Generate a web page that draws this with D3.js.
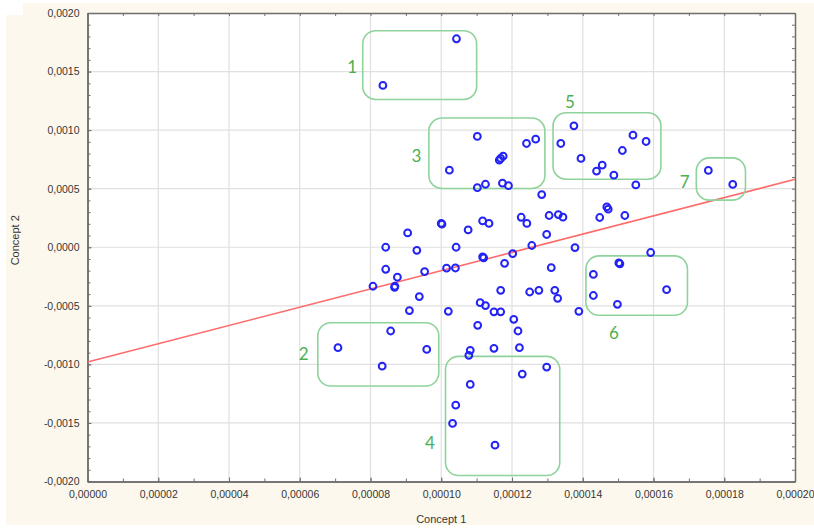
<!DOCTYPE html>
<html>
<head>
<meta charset="utf-8">
<script src="https://cdn.jsdelivr.net/npm/d3@7"></script>
<style>
    html, body { margin: 0; padding: 0; background: #ffffff; }
    svg { display: block; }
</style>
</head>
<body>
<svg id="chart" width="814" height="528"></svg>
<script>
// Concept 1 values (x), in units of 1e-5
const concept1 = [
    10.43, 8.35,
    11.02, 12.41, 12.67, 11.68, 11.75, 11.64, 10.23, 11.02, 11.25, 11.73, 11.90,
    13.75, 13.38, 13.95, 14.55, 14.39, 14.88, 15.12, 15.42, 15.79, 15.50, 12.84,
    17.55, 18.24,
    13.05, 13.31, 13.44, 14.68, 14.72, 14.48, 15.19, 10.00, 10.02, 9.05, 10.76,
    11.17, 11.35, 12.26, 12.42, 12.98, 12.56, 13.78, 8.43, 9.31, 10.42, 11.17,
    11.20, 12.02, 11.79, 13.11, 8.43, 8.76, 9.53, 10.15, 10.40, 8.07, 8.68, 8.69,
    9.38, 9.10, 10.20, 11.10, 11.25, 11.49, 11.68, 11.68, 12.50, 12.76, 13.21,
    13.29, 13.89, 12.05, 11.03, 12.17,
    8.57, 7.08, 9.59, 8.33,
    10.82, 10.78, 11.49, 12.21, 12.29, 12.98, 10.82, 10.41, 10.32, 11.52,
    15.92, 15.02, 15.05, 14.30, 14.30, 14.98, 16.37
];

// Concept 2 values (y), in units of 1e-4
const concept2 = [
    17.80, 13.82,
    9.46, 8.86, 9.23, 7.58, 7.78, 7.44, 6.58, 5.09, 5.38, 5.47, 5.26,
    10.37, 8.86, 7.58, 7.01, 6.50, 6.15, 8.26, 9.57, 9.03, 5.32, 4.50,
    6.56, 5.36,
    2.71, 2.79, 2.57, 3.44, 3.25, 2.54, 2.71, 2.03, 1.97, 1.22, 1.48,
    2.25, 2.03, 2.56, 2.03, 1.09, 0.15, -0.03, 0.00, -0.26, 0.00, -0.83,
    -0.90, -0.54, -1.37, -1.74, -1.88, -2.56, -2.08, -1.79, -1.77, -3.33, -3.42, -3.33,
    -4.21, -5.41, -5.47, -4.73, -4.98, -5.51, -5.51, -3.68, -3.82, -3.68, -3.68,
    -4.36, -5.47, -6.15, -6.67, -7.15,
    -7.15, -8.57, -8.72, -10.15,
    -8.80, -9.23, -8.63, -8.57, -10.83, -10.23, -11.71, -13.48, -15.04, -16.90,
    -0.45, -1.34, -1.41, -2.32, -4.12, -4.87, -3.62
];

const xTicks = [0, 0.00002, 0.00004, 0.00006, 0.00008, 0.0001, 0.00012, 0.00014, 0.00016, 0.00018, 0.0002];
const yTicks = [-0.002, -0.0015, -0.001, -0.0005, 0, 0.0005, 0.001, 0.0015, 0.002];

// fitted line: intercept and slope
const fitIntercept = -0.00098;
const fitSlope = 7.8;

// cluster boxes (x in 1e-5, y in 1e-4)
const groupNames = ['1', '2', '3', '4', '5', '6', '7'];
const groupX0 = [7.78, 6.51, 9.65, 10.12, 13.16, 14.09, 17.21];
const groupX1 = [11.00, 9.93, 12.93, 13.35, 16.21, 16.96, 18.60];
const groupY0 = [18.49, -6.44, 11.03, -9.32, 11.48, -0.74, 7.63];
const groupY1 = [12.62, -11.85, 5.02, -19.49, 5.81, -5.81, 4.02];
const labelX = [7.48, 6.11, 9.30, 9.68, 13.64, 14.88, 16.88];
const labelY = [15.47, -9.09, 7.86, -16.64, 12.48, -7.24, 5.58];

const svg = d3.select('#chart');
const width = 814;
const height = 528;
const margin = { top: 13, right: 19, bottom: 46.5, left: 87.5 };

const x = d3.scaleLinear()
    .domain([0, 0.0002])
    .range([margin.left, width - margin.right]);

const y = d3.scaleLinear()
    .domain([-0.002, 0.002])
    .range([height - margin.bottom, margin.top]);

// cream page background
svg.append('rect')
    .attr('x', 6).attr('y', 3)
    .attr('width', width - 6).attr('height', 522)
    .attr('fill', '#fdf8ed');
svg.append('rect')
    .attr('x', 0).attr('y', 0)
    .attr('width', 23).attr('height', 15)
    .attr('fill', '#ffffff');

// plot area
svg.append('rect')
    .attr('x', x(0)).attr('y', y(0.002))
    .attr('width', x(0.0002) - x(0)).attr('height', y(-0.002) - y(0.002))
    .attr('fill', '#ffffff');

// grid
svg.append('g')
    .selectAll('line')
    .data(xTicks.slice(1, -1))
    .join('line')
    .attr('x1', d => x(d)).attr('x2', d => x(d))
    .attr('y1', y(0.002)).attr('y2', y(-0.002))
    .attr('stroke', '#e0e0e0')
    .attr('stroke-width', 1.2);

svg.append('g')
    .selectAll('line')
    .data(yTicks.slice(1, -1))
    .join('line')
    .attr('y1', d => y(d)).attr('y2', d => y(d))
    .attr('x1', x(0)).attr('x2', x(0.0002))
    .attr('stroke', '#e0e0e0')
    .attr('stroke-width', 1.2);

const fmtX = v => d3.format('.5f')(v).replace('.', ',').replace('−', '-');
const fmtY = v => d3.format('.4f')(v).replace('.', ',').replace('−', '-');

const minorX = d3.range(0, 21).map(i => i * 0.00001);
const minorY = d3.range(-20, 21).map(i => i * 0.0001);

// axes, ticks drawn inward on all four sides
const axisStyle = g => {
    g.select('.domain').attr('stroke', '#6e6e6e').attr('stroke-width', 1.5);
    g.selectAll('.tick line').attr('stroke', '#6e6e6e');
    g.selectAll('.tick text')
        .attr('fill', '#363636')
        .attr('font-family', 'Liberation Sans, Arial, sans-serif')
        .attr('font-size', '10.5px');
};

svg.append('g')
    .attr('transform', `translate(0, ${y(-0.002)})`)
    .call(d3.axisBottom(x).tickValues(minorX).tickSize(-3).tickSizeOuter(0).tickFormat(''))
    .call(axisStyle);
svg.append('g')
    .attr('transform', `translate(0, ${y(-0.002)})`)
    .call(d3.axisBottom(x).tickValues(xTicks).tickSize(-4).tickSizeOuter(0).tickPadding(9).tickFormat(fmtX))
    .call(axisStyle);

svg.append('g')
    .attr('transform', `translate(0, ${y(0.002)})`)
    .call(d3.axisTop(x).tickValues(minorX).tickSize(-3).tickSizeOuter(0).tickFormat(''))
    .call(axisStyle);

svg.append('g')
    .attr('transform', `translate(${x(0)}, 0)`)
    .call(d3.axisLeft(y).tickValues(minorY).tickSize(-3).tickSizeOuter(0).tickFormat(''))
    .call(axisStyle);
svg.append('g')
    .attr('transform', `translate(${x(0)}, 0)`)
    .call(d3.axisLeft(y).tickValues(yTicks).tickSize(-4).tickSizeOuter(0).tickPadding(8).tickFormat(fmtY))
    .call(axisStyle);

svg.append('g')
    .attr('transform', `translate(${x(0.0002)}, 0)`)
    .call(d3.axisRight(y).tickValues(minorY).tickSize(-3).tickSizeOuter(0).tickFormat(''))
    .call(axisStyle);

// axis titles
svg.append('text')
    .attr('x', (x(0) + x(0.0002)) / 2)
    .attr('y', 523)
    .attr('text-anchor', 'middle')
    .attr('font-family', 'Liberation Sans, Arial, sans-serif')
    .attr('font-size', '11px')
    .attr('fill', '#363636')
    .text('Concept 1');

svg.append('text')
    .attr('transform', `translate(19, ${y(0) - 7}) rotate(-90)`)
    .attr('text-anchor', 'middle')
    .attr('font-family', 'Liberation Sans, Arial, sans-serif')
    .attr('font-size', '11px')
    .attr('fill', '#363636')
    .text('Concept 2');

// fitted line
svg.append('line')
    .attr('x1', x(0)).attr('y1', y(fitIntercept))
    .attr('x2', x(0.0002)).attr('y2', y(fitIntercept + fitSlope * 0.0002))
    .attr('stroke', '#ff6b6b')
    .attr('stroke-width', 1.6);

// cluster boxes and labels
const groups = groupNames.map((name, i) => ({
    name,
    x0: groupX0[i] * 1e-5, x1: groupX1[i] * 1e-5,
    y0: groupY0[i] * 1e-4, y1: groupY1[i] * 1e-4,
    lx: labelX[i] * 1e-5, ly: labelY[i] * 1e-4
}));

svg.append('g')
    .selectAll('rect')
    .data(groups)
    .join('rect')
    .attr('x', d => x(d.x0))
    .attr('y', d => y(d.y0))
    .attr('width', d => x(d.x1) - x(d.x0))
    .attr('height', d => y(d.y1) - y(d.y0))
    .attr('rx', 13)
    .attr('fill', 'none')
    .attr('stroke', '#8ed39c')
    .attr('stroke-width', 1.6);

svg.append('g')
    .selectAll('text')
    .data(groups)
    .join('text')
    .attr('x', d => x(d.lx))
    .attr('y', d => y(d.ly))
    .attr('text-anchor', 'middle')
    .attr('dominant-baseline', 'central')
    .attr('font-family', 'Lato, Open Sans, sans-serif')
    .attr('font-size', '17px')
    .attr('fill', '#4caf50')
    .text(d => d.name);

// points
const points = concept1.map((v, i) => ({ cx: v * 1e-5, cy: concept2[i] * 1e-4 }));

svg.append('g')
    .selectAll('circle')
    .data(points)
    .join('circle')
    .attr('cx', d => x(d.cx))
    .attr('cy', d => y(d.cy))
    .attr('r', 3.4)
    .attr('fill', 'none')
    .attr('stroke', '#2323f5')
    .attr('stroke-width', 2);
</script>
</body>
</html>
